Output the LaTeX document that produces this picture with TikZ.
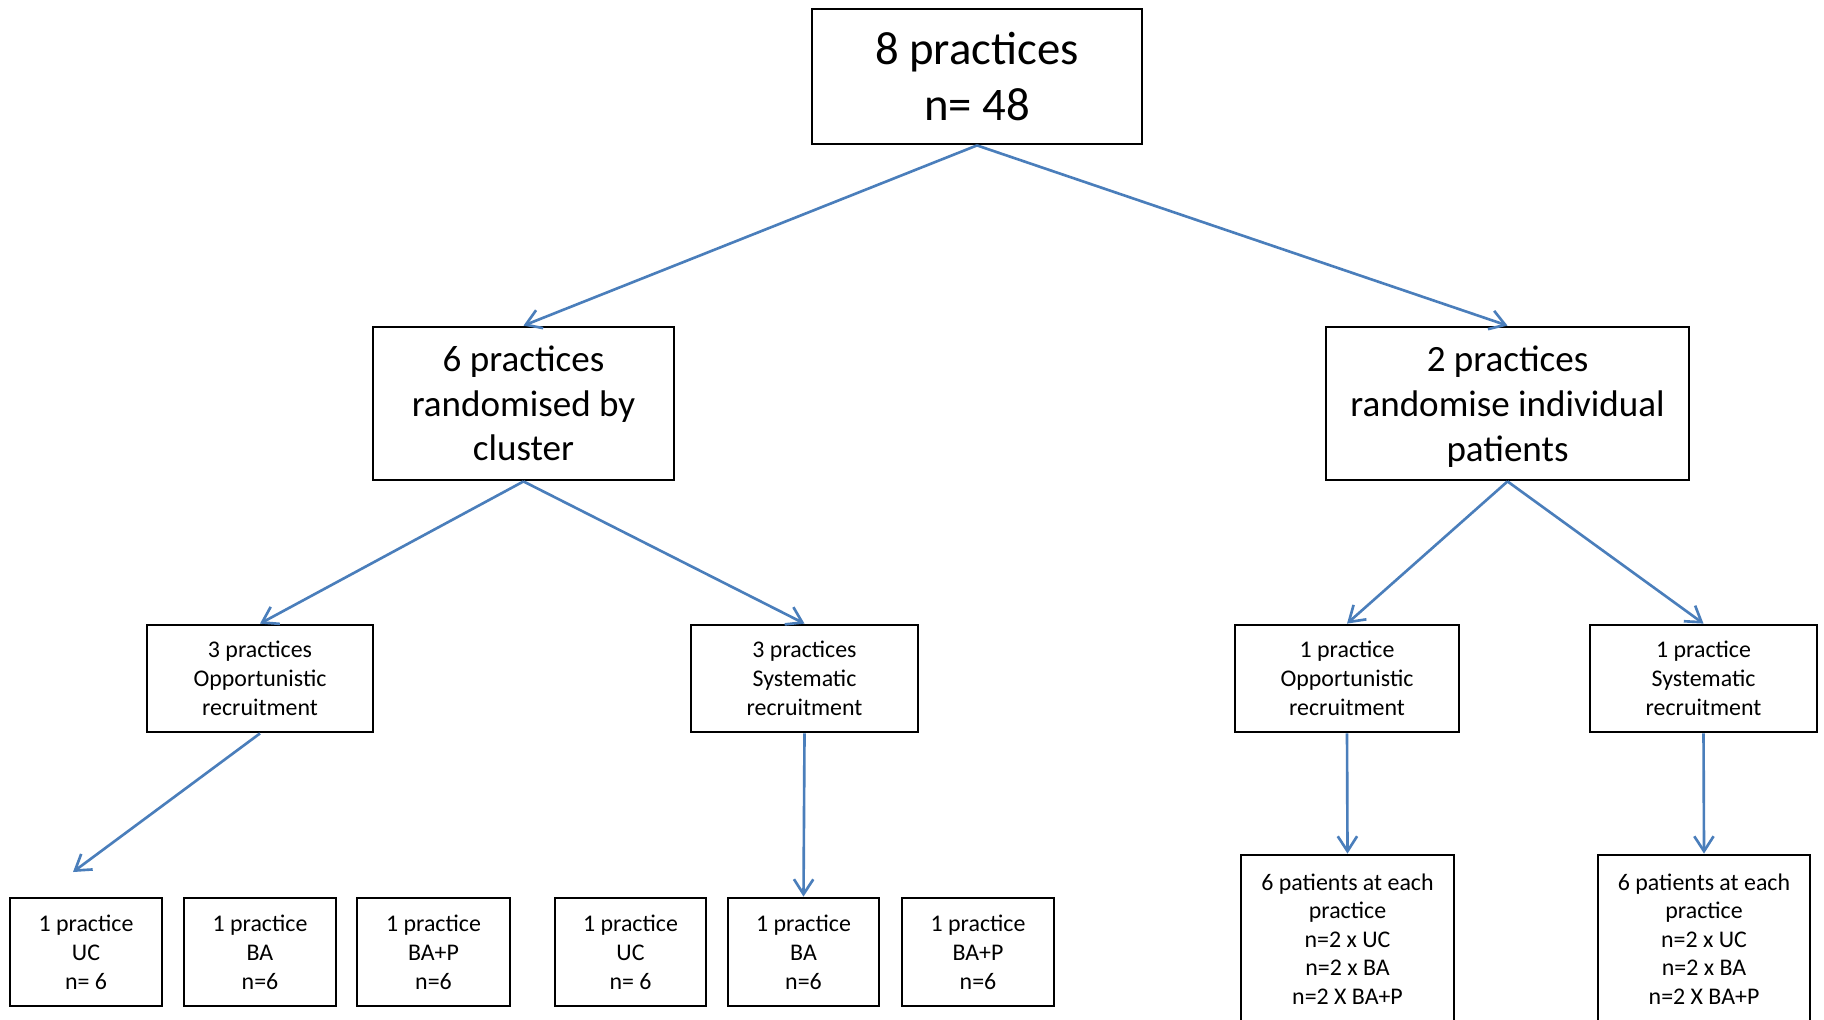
\documentclass[tikz,border=0pt]{standalone}
\usepackage{fontspec}
\setmainfont{Carlito}
\usetikzlibrary{arrows.meta}
\definecolor{arrowblue}{RGB}{74,126,187}
\def\px{0.02cm}
\tikzset{
  box/.style={draw=black, line width=1.6pt, fill=white, inner sep=0pt, align=center, text=black},
  bigbox/.style={box, font=\fontsize{26.6}{32.3}\selectfont},
  midbox/.style={box, font=\fontsize{21.1}{25.5}\selectfont},
  smallbox/.style={box, font=\fontsize{13.6}{16.4}\selectfont},
  conn/.style={draw=arrowblue, line width=1.5pt, -{Straight Barb[length=8.5pt,width=11pt,line width=1.5pt]}}
}
\begin{document}
\begin{tikzpicture}[x=0.02cm, y=-0.02cm]
\useasboundingbox (0,0) rectangle (1824,1019);
\clip (0,0) rectangle (1824,1019);
\fill[white] (0,0) rectangle (1824,1019);

\node[bigbox, minimum width=330*\px, minimum height=135*\px] (top) at (977,76.5) {8 practices\\n= 48};

\node[midbox, minimum width=301*\px, minimum height=153*\px] (clu) at (523.5,403.5) {6 practices\\randomised by\\cluster};
\node[midbox, minimum width=363*\px, minimum height=153*\px] (ind) at (1507.5,403.5) {2 practices\\randomise individual\\\smash{patients}};

\node[smallbox, minimum width=226*\px, minimum height=107*\px] (copp) at (260,678.5) {3 practices\\Opportunistic\\recruitment};
\node[smallbox, minimum width=227*\px, minimum height=107*\px] (csys) at (804.5,678.5) {3 practices\\Systematic\\recruitment};
\node[smallbox, minimum width=224*\px, minimum height=107*\px] (iopp) at (1347,678.5) {1 practice\\Opportunistic\\recruitment};
\node[smallbox, minimum width=227*\px, minimum height=107*\px] (isys) at (1703.5,678.5) {1 practice\\Systematic\\recruitment};

\node[smallbox, minimum width=152*\px, minimum height=108*\px] (b1) at (86,952) {1 practice\\UC\\n= 6};
\node[smallbox, minimum width=152*\px, minimum height=108*\px] (b2) at (260,952) {1 practice\\BA\\n=6};
\node[smallbox, minimum width=153*\px, minimum height=108*\px] (b3) at (433.5,952) {1 practice\\BA+P\\n=6};
\node[smallbox, minimum width=151*\px, minimum height=108*\px] (b4) at (630.5,952) {1 practice\\UC\\n= 6};
\node[smallbox, minimum width=151*\px, minimum height=108*\px] (b5) at (803.5,952) {1 practice\\BA\\n=6};
\node[smallbox, minimum width=152*\px, minimum height=108*\px] (b6) at (978,952) {1 practice\\BA+P\\n=6};

\node[smallbox, minimum width=213*\px, minimum height=168*\px, font=\fontsize{13.6}{16.2}\selectfont] (r1) at (1347.5,939) {6 patients at each\\practice\\n=2 x UC\\n=2 x BA\\n=2 X BA+P};
\node[smallbox, minimum width=212*\px, minimum height=168*\px, font=\fontsize{13.6}{16.2}\selectfont] (r2) at (1704,939) {6 patients at each\\practice\\n=2 x UC\\n=2 x BA\\n=2 X BA+P};

\coordinate (free) at (73,872);

\draw[conn] (top.south) -- (clu.north);
\draw[conn] (top.south) -- (ind.north);
\draw[conn] (clu.south) -- (copp.north);
\draw[conn] (clu.south) -- (csys.north);
\draw[conn] (ind.south) -- (iopp.north);
\draw[conn] (ind.south) -- (isys.north);
\draw[conn] (copp.south) -- (free);
\draw[conn] (csys.south) -- (b5.north);
\draw[conn] (iopp.south) -- (r1.north);
\draw[conn] (isys.south) -- (r2.north);
\end{tikzpicture}
\end{document}
